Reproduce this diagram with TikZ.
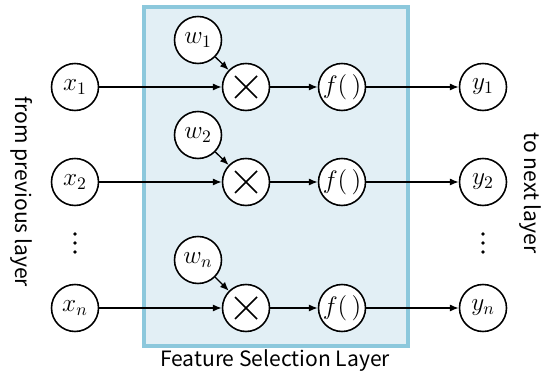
\documentclass[tikz,border=0pt]{standalone}
\usepackage{fontspec}
\setmainfont{Noto Sans CJK JP}
\usepackage{amsmath}
\usetikzlibrary{positioning,arrows.meta}
\definecolor{layerfill}{HTML}{E2EFF5}
\definecolor{layerline}{HTML}{8CC8DC}
\tikzset{every picture/.style={line width=0.75pt}}
\tikzset{
  unit/.style={circle,draw,line width=0.9pt,minimum size=0.94cm,inner sep=0pt,font=\Large,fill=white},
  mult/.style={unit,path picture={
      \draw[line width=0.9pt] ([shift={(-0.22cm,-0.22cm)}]path picture bounding box.center) -- ([shift={(0.22cm,0.22cm)}]path picture bounding box.center);
      \draw[line width=0.9pt] ([shift={(-0.22cm,0.22cm)}]path picture bounding box.center) -- ([shift={(0.22cm,-0.22cm)}]path picture bounding box.center);}},
  conn/.style={-{Latex[length=5pt,width=4pt]}},
  label/.style={font=\large},
}

\begin{document}
\begin{tikzpicture}[x=0.02cm,y=-0.02cm]
\useasboundingbox (0,0) rectangle (550,374);
\draw [layerline,fill=layerfill,line width=2pt] (144,7) rectangle (408,346);
\node [label] at (275,361) {Feature Selection Layer};
\node [label,rotate=-90] at (22,192) {from previous layer};
\node [label,rotate=-90] at (530,193) {to next layer};
%
\node [unit] (x1) at (75,87) {$x_1$};
\node [unit] (x2) at (75,182) {$x_2$};
\node [unit] (xn) at (75,308) {$x_n$};
\coordinate (xd) at (75,243);
\foreach \d in {-9,0,9} \fill ([yshift=\d*0.02cm]xd) circle (1.1pt);
%
\node [unit] (w1) at (198,40) {$w_1$};
\node [unit] (w2) at (198,135) {$w_2$};
\node [unit] (wn) at (198,260) {$w_n$};
%
\node [mult] (m1) at (246,87) {};
\node [mult] (m2) at (246,182) {};
\node [mult] (mn) at (246,308) {};
%
\node [unit] (f1) at (342,87) {$f(\,)$};
\node [unit] (f2) at (342,182) {$f(\,)$};
\node [unit] (fn) at (342,308) {$f(\,)$};
%
\node [unit] (y1) at (483,87) {$y_1$};
\node [unit] (y2) at (483,182) {$y_2$};
\node [unit] (yn) at (483,308) {$y_n$};
\coordinate (yd) at (483,243);
\foreach \d in {-9,0,9} \fill ([yshift=\d*0.02cm]yd) circle (1.1pt);
%
\draw [conn] (x1) -- (m1);
\draw [conn] (x2) -- (m2);
\draw [conn] (xn) -- (mn);
\draw [conn] (w1) -- (m1);
\draw [conn] (w2) -- (m2);
\draw [conn] (wn) -- (mn);
\draw [conn] (m1) -- (f1);
\draw [conn] (m2) -- (f2);
\draw [conn] (mn) -- (fn);
\draw [conn] (f1) -- (y1);
\draw [conn] (f2) -- (y2);
\draw [conn] (fn) -- (yn);
\end{tikzpicture}
\end{document}
